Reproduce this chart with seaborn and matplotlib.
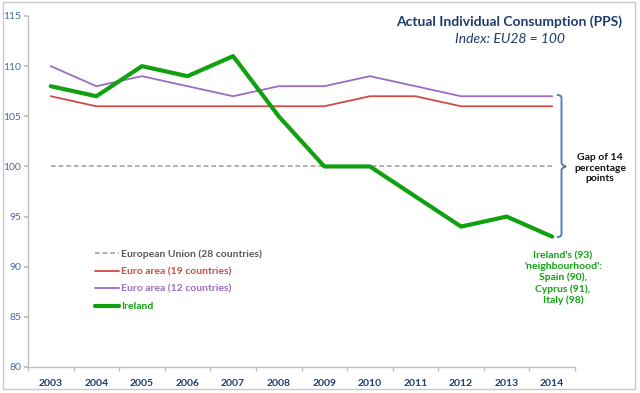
import numpy as np
import pandas as pd
import matplotlib
matplotlib.use("Agg")
import matplotlib.pyplot as plt
import seaborn as sns
from matplotlib.path import Path
from matplotlib.patches import PathPatch, Rectangle
from matplotlib.lines import Line2D

years = ["2003", "2004", "2005", "2006", "2007", "2008", "2009", "2010", "2011", "2012", "2013", "2014"]
eu28 = [100, 100, 100, 100, 100, 100, 100, 100, 100, 100, 100, 100]
ea19 = [107, 106, 106, 106, 106, 106, 106, 107, 107, 106, 106, 106]
ea12 = [110, 108, 109, 108, 107, 108, 108, 109, 108, 107, 107, 107]
ireland = [108, 107, 110, 109, 111, 105, 100, 100, 97, 94, 95, 93]
y_ticks = [80, 85, 90, 95, 100, 105, 110, 115]

labels = ["European Union (28 countries)", "Euro area (19 countries)",
          "Euro area (12 countries)", "Ireland"]

sns.set_theme(style="white")
plt.rcParams['font.family'] = ['Lato', 'DejaVu Sans']

W, H = 640, 393
fig = plt.figure(figsize=(W / 100, H / 100), dpi=100)
ax = fig.add_axes([28 / W, 1 - 367 / H, (575 - 28) / W, (367 - 16) / H])

x = np.arange(len(years))
df = pd.DataFrame({"x": x, "eu": eu28, "ea19": ea19, "ea12": ea12, "ie": ireland})

c_eu, c_19, c_12, c_ie = "#9a9a9a", "#cf4b47", "#9b6cc4", "#10a010"
sns.lineplot(data=df, x="x", y="eu", ax=ax, color=c_eu, lw=1.1, linestyle=(0, (3, 2)))
sns.lineplot(data=df, x="x", y="ea19", ax=ax, color=c_19, lw=1.3)
sns.lineplot(data=df, x="x", y="ea12", ax=ax, color=c_12, lw=1.3)
sns.lineplot(data=df, x="x", y="ie", ax=ax, color=c_ie, lw=3.0)

ax.set_xlim(-0.5, len(years) - 0.5)
ax.set_ylim(80, 115)
ax.set_xlabel("")
ax.set_ylabel("")
ax.set_xticks(x)
ax.set_xticklabels(years, fontsize=7.5, fontweight="bold", color="#1f3b6e")
ax.set_xticks(np.arange(-0.5, len(years)), minor=True)
ax.tick_params(axis="x", which="major", length=0, pad=9)
ax.tick_params(axis="x", which="minor", length=3, color="#bfbfbf", direction="out", bottom=True)
ax.set_yticks(y_ticks)
ax.set_yticklabels([str(v) for v in y_ticks], fontsize=7.5, color="#4a6a9a")
ax.tick_params(axis="y", length=3, color="#bfbfbf", direction="out", left=True, pad=2)
for s in ["top", "right"]:
    ax.spines[s].set_visible(False)
for s in ["left", "bottom"]:
    ax.spines[s].set_color("#bfbfbf")
    ax.spines[s].set_linewidth(1.0)

# Title
fig.text(509 / W, 1 - 22 / H, "Actual Individual Consumption (PPS)", ha="center", va="center",
         fontsize=10, fontweight="bold", color="#1f3b6e")
fig.text(510 / W, 1 - 39 / H, "Index: EU28 = 100", ha="center", va="center",
         fontsize=10, style="italic", color="#1f3b6e")

# Legend
handles = [Line2D([], [], color=c_eu, lw=1.1, linestyle=(0, (3, 2))),
           Line2D([], [], color=c_19, lw=1.3),
           Line2D([], [], color=c_12, lw=1.3),
           Line2D([], [], color=c_ie, lw=3.0)]
leg = fig.legend(handles, labels, loc="upper left", bbox_to_anchor=(95 / W, 1 - 249 / H),
                 frameon=False, prop={"size": 7.5, "weight": "bold"}, handlelength=2.3,
                 handletextpad=0.2, labelspacing=0.8, borderaxespad=0, borderpad=0)
for t, c in zip(leg.get_texts(), ["#595959", c_19, c_12, c_ie]):
    t.set_color(c)

# Brace (pixel coordinates -> figure fraction)
def P(px, py):
    return (px / W, 1 - py / H)

x0, x1, x2 = 557, 561.5, 566
yt, ym, yb = 95, 166.5, 237
verts = [P(x0, yt), P(x1, yt), P(x1, yt + 2), P(x1, yt + 4),
         P(x1, ym - 4), P(x1, ym - 1), P(x2, ym), P(x2, ym),
         P(x2, ym), P(x1, ym + 1), P(x1, ym + 4),
         P(x1, yb - 4), P(x1, yb - 2), P(x1, yb), P(x0, yb)]
codes = [Path.MOVETO, Path.CURVE4, Path.CURVE4, Path.CURVE4,
         Path.LINETO, Path.CURVE4, Path.CURVE4, Path.CURVE4,
         Path.CURVE4, Path.CURVE4, Path.CURVE4,
         Path.LINETO, Path.CURVE4, Path.CURVE4, Path.CURVE4]
fig.add_artist(PathPatch(Path(verts, codes), transform=fig.transFigure, fill=False,
                         edgecolor="#4f81bd", lw=1.4))

fig.text(600 / W, 1 - 168 / H, "Gap of 14\npercentage\npoints", ha="center", va="center",
         fontsize=7.5, fontweight="bold", color="#111111", linespacing=1.2)
fig.text(563 / W, 1 - 278 / H, "Ireland's (93)\n'neighbourhood':\nSpain (90),\nCyprus (91),\nItaly (98)",
         ha="center", va="center", fontsize=7.5, fontweight="bold", color="#12a012", linespacing=1.25)

# Figure border
fig.add_artist(Rectangle((3 / W, 1 - 389 / H), (635 - 3) / W, (389 - 2) / H,
                         transform=fig.transFigure, fill=False, edgecolor="#c8c8c8", lw=1.0))

fig.savefig("out.png", dpi=100)
